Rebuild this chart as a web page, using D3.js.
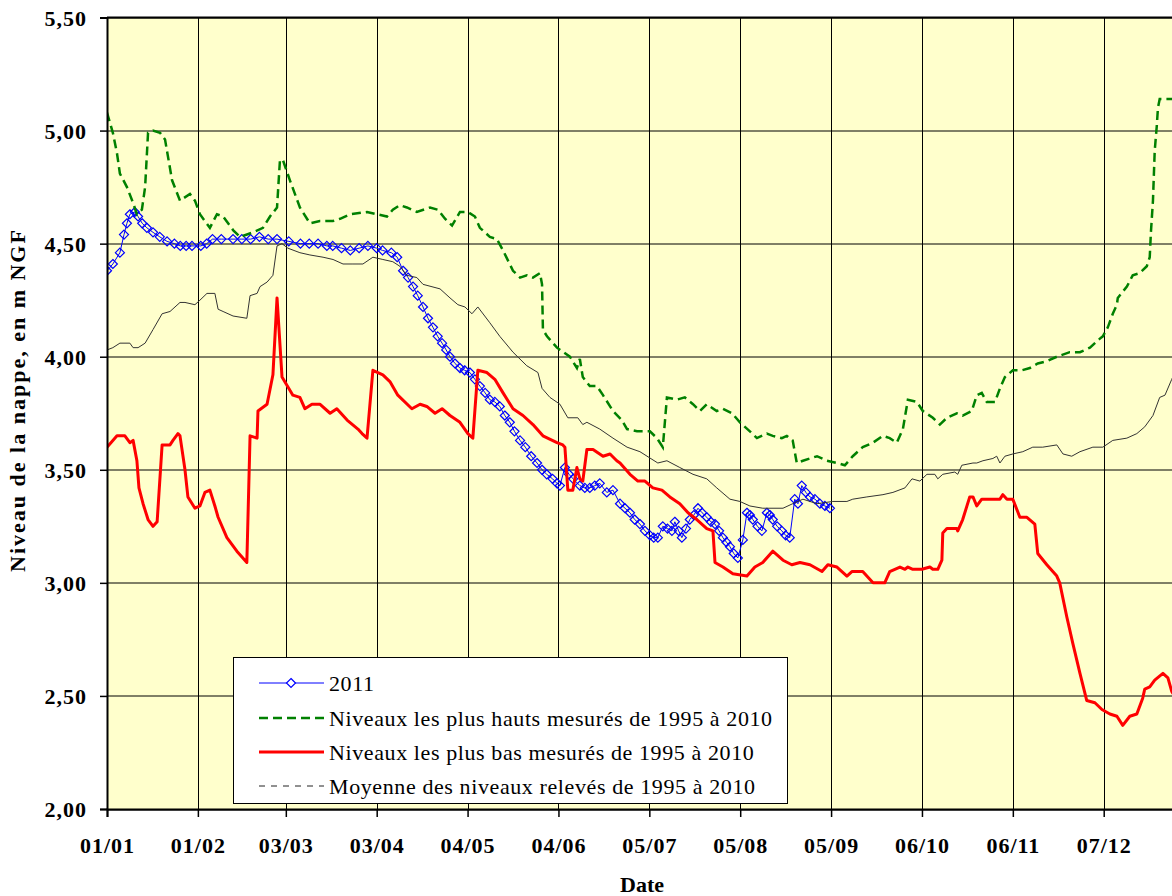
<!DOCTYPE html>
<html>
<head>
<meta charset="utf-8">
<script src="https://cdn.jsdelivr.net/npm/d3@7"></script>
<style>
  body { margin: 0; background: #fff; }
  svg text { font-family: "Liberation Serif", "Times New Roman", serif; }
</style>
</head>
<body>
<div id="chart"></div>
<script>
// y ticks (m NGF) and x ticks (dates shown as dd/mm)
var yTicks = [2.0, 2.5, 3.0, 3.5, 4.0, 4.5, 5.0, 5.5];
var xTickDates = ["2011-01-01", "2011-02-01", "2011-03-03", "2011-04-03", "2011-05-04", "2011-06-04",
                  "2011-07-05", "2011-08-05", "2011-09-05", "2011-10-06", "2011-11-06", "2011-12-07"];

var legendLabels = ["2011",
                    "Niveaux les plus hauts mesurés de 1995 à 2010",
                    "Niveaux les plus bas mesurés de 1995 à 2010",
                    "Moyenne des niveaux relevés de 1995 à 2010"];

// [day of year, level]
var series2011 = [[0,4.38],[2,4.41],[4.4,4.46],[5.8,4.54],[6.8,4.59],[7.8,4.63],[9.5,4.64],[10.6,4.62],[12,4.59],
  [13.6,4.57],[15.7,4.55],[18,4.53],[20.5,4.51],[23,4.50],[25,4.49],[27,4.49],[29,4.49],[32,4.49],[34,4.50],
  [36,4.52],[39,4.52],[43,4.52],[46,4.52],[49,4.52],[52,4.53],[55,4.52],[58,4.52],[62,4.51],[66,4.50],[69,4.50],
  [72,4.50],[75,4.49],[77,4.49],[80,4.48],[83,4.47],[86,4.48],[89,4.49],[92,4.48],[94,4.47],[97,4.46],[99,4.44],
  [101,4.38],[102.7,4.35],[104.4,4.31],[106,4.27],[107.8,4.22],[109.5,4.17],[111.2,4.13],[112.8,4.09],[114.3,4.06],
  [115.7,4.03],[117,4.00],[118.7,3.97],[120.4,3.95],[122,3.94],[123.8,3.93],[125.5,3.90],[127.2,3.87],[129,3.84],
  [130.6,3.81],[132.3,3.80],[134,3.78],[135.7,3.74],[137.4,3.71],[139,3.67],[140.9,3.63],[142.7,3.60],[144.7,3.56],
  [146.7,3.53],[148.4,3.50],[150,3.48],[152,3.46],[153.5,3.44],[154.5,3.43],[156.2,3.51],[157.6,3.48],[159,3.46],
  [161.3,3.43],[163,3.42],[164.7,3.42],[166.4,3.43],[168.1,3.44],[170.5,3.40],[172.6,3.41],[175,3.35],[176.7,3.33],
  [178.4,3.31],[180,3.28],[181.8,3.26],[183.5,3.23],[185.2,3.21],[186.5,3.20],[187.9,3.20],[189.6,3.25],[191.2,3.24],
  [192.7,3.23],[193.7,3.27],[195,3.23],[196.1,3.20],[197.5,3.24],[198.8,3.28],[200.2,3.30],[201.6,3.33],[203,3.31],
  [204.6,3.29],[206,3.27],[207.4,3.26],[208.8,3.23],[210.1,3.20],[211.3,3.18],[212.5,3.16],[213.8,3.13],[215.2,3.11],
  [216.9,3.19],[218.3,3.31],[219.3,3.30],[220.3,3.28],[221.9,3.25],[223.4,3.23],[225.1,3.31],[226.1,3.30],[227.1,3.28],
  [228.6,3.25],[230.2,3.23],[231.5,3.21],[232.9,3.20],[234.6,3.37],[235.7,3.35],[237,3.43],[238.4,3.40],[239.8,3.38],
  [241.5,3.37],[243.2,3.35],[244.9,3.34],[246.6,3.33]];

var highest = [[0,5.08],[2,4.99],[3.4,4.90],[4.4,4.81],[6.8,4.75],[8.9,4.68],[10.2,4.63],[11.9,4.65],[13,4.75],[14,4.99],
  [15.7,5.00],[18.1,4.99],[19.8,4.96],[22.2,4.78],[24.9,4.69],[28.3,4.72],[30,4.69],[31.7,4.63],[35.1,4.57],[37.5,4.63],
  [39.6,4.62],[43,4.56],[45.4,4.53],[49.8,4.55],[53.2,4.57],[55.6,4.62],[58,4.66],[59,4.87],[60,4.87],[62.4,4.78],
  [65.8,4.66],[69.2,4.59],[72.6,4.60],[77.1,4.60],[79.5,4.61],[82.9,4.63],[88.7,4.64],[92.1,4.63],[95.5,4.62],[97.5,4.65],
  [99.9,4.67],[102.3,4.66],[105.7,4.64],[110.2,4.66],[112.9,4.65],[115.3,4.61],[117.7,4.58],[120.4,4.64],[123.1,4.64],
  [125.5,4.62],[127.2,4.57],[130.6,4.53],[133,4.52],[135.1,4.47],[138.5,4.38],[140.9,4.35],[143.2,4.36],[145.3,4.35],
  [147.7,4.37],[148.4,4.32],[148.7,4.12],[150.1,4.09],[153.5,4.04],[157.9,4.00],[160.3,3.95],[161.3,3.99],[162.3,3.91],
  [164.7,3.87],[167.1,3.87],[169.2,3.83],[172.6,3.76],[175.6,3.72],[177.4,3.68],[180.8,3.67],[185.2,3.67],[187.6,3.64],
  [189.6,3.60],[191,3.82],[194.4,3.81],[197.1,3.82],[199.9,3.79],[202.3,3.76],[204.6,3.79],[208,3.76],[210.1,3.77],
  [213.2,3.75],[215.9,3.71],[219.3,3.67],[221.7,3.64],[225.1,3.66],[227.1,3.65],[230.2,3.64],[231.9,3.65],[233.9,3.63],
  [235.3,3.53],[237.4,3.54],[242.2,3.56],[245.6,3.54],[249,3.53],[251.7,3.52],[254.4,3.56],[257.8,3.60],[261.3,3.62],
  [264.7,3.65],[267,3.64],[269.4,3.62],[271.5,3.68],[273.2,3.81],[276.3,3.80],[278.3,3.76],[281.7,3.73],[284.1,3.70],
  [286.5,3.73],[289.9,3.75],[291.9,3.74],[295,3.76],[296.7,3.83],[298.4,3.84],[300.1,3.80],[302.9,3.80],[304.6,3.86],
  [306.3,3.91],[309,3.94],[312.1,3.94],[314.8,3.95],[317.5,3.97],[320.6,3.98],[324,4.00],[328.4,4.02],[331.9,4.02],
  [335.3,4.04],[338.7,4.08],[339.7,4.09],[341.4,4.13],[343.1,4.19],[344.5,4.23],[344.8,4.26],[347.9,4.31],[349.9,4.36],
  [352.3,4.37],[354.7,4.40],[355.7,4.44],[356.1,4.55],[356.8,4.69],[357.4,4.91],[358.1,5.02],[358.5,5.10],[359.1,5.14],
  [365,5.14]];

var lowest = [[0,3.60],[3.4,3.65],[6.1,3.65],[7.8,3.62],[8.9,3.63],[10.2,3.54],[10.9,3.42],[12.3,3.35],[14,3.28],
  [15.7,3.25],[17.1,3.27],[18.8,3.61],[21.5,3.61],[22.5,3.63],[24.2,3.66],[24.9,3.65],[26.6,3.50],[27.6,3.38],[30,3.33],
  [31.7,3.34],[33.4,3.40],[35.1,3.41],[36.8,3.34],[37.9,3.29],[40.9,3.20],[44.3,3.14],[47.7,3.09],[48.8,3.65],[51.2,3.64],
  [51.5,3.76],[54.6,3.79],[56.6,3.92],[58,4.26],[59.7,3.91],[63.4,3.83],[65.8,3.82],[67.5,3.77],[69.9,3.79],[72.6,3.79],
  [76.1,3.75],[78.4,3.77],[81.9,3.72],[85.6,3.68],[87,3.66],[88.7,3.64],[90.7,3.94],[92.4,3.93],[94.1,3.92],[96.5,3.89],
  [99.2,3.83],[104,3.77],[106.8,3.79],[109.1,3.78],[111.9,3.75],[114.3,3.77],[117,3.74],[120.4,3.71],[123.1,3.66],
  [124.8,3.64],[126.5,3.94],[129.6,3.93],[132.3,3.90],[135.1,3.84],[138.5,3.77],[141.9,3.74],[145.3,3.70],[148.7,3.65],
  [153.5,3.62],[155.5,3.61],[156.2,3.60],[157.2,3.41],[158.9,3.41],[160.3,3.51],[161.3,3.46],[162.3,3.45],[163.7,3.59],
  [165.8,3.59],[169.2,3.56],[171.6,3.57],[173.9,3.54],[175,3.53],[178.4,3.48],[181.1,3.45],[183.5,3.45],[186.2,3.42],
  [189.3,3.41],[192,3.38],[195.4,3.35],[198.2,3.31],[201.2,3.28],[204.6,3.24],[206.7,3.23],[207.4,3.09],[210.1,3.07],
  [213.5,3.04],[218.3,3.03],[221,3.07],[223.7,3.09],[227.1,3.14],[230.6,3.10],[233.6,3.08],[236.4,3.09],[239.8,3.08],
  [243.9,3.05],[245.9,3.08],[249,3.07],[252.4,3.03],[254.1,3.05],[257.8,3.05],[261.3,3.00],[265.3,3.00],[267,3.05],
  [270.5,3.07],[272.2,3.06],[273.2,3.07],[274.9,3.06],[278,3.06],[280.7,3.07],[281.7,3.06],[283.4,3.06],[284.8,3.10],
  [285.1,3.22],[286.5,3.24],[289.9,3.24],[290.2,3.23],[291.9,3.28],[294.3,3.38],[295.4,3.38],[296.7,3.34],[298.4,3.37],
  [302.9,3.37],[304.6,3.37],[305.6,3.39],[307,3.37],[309,3.37],[311.4,3.29],[313.8,3.29],[316.5,3.26],[317.5,3.13],
  [320.6,3.08],[324,3.03],[325,3.00],[327.4,2.85],[329.5,2.73],[331.9,2.60],[334.2,2.48],[337,2.47],[339.4,2.44],
  [342.1,2.42],[344.5,2.41],[346.5,2.37],[348.9,2.41],[351.3,2.42],[353.3,2.49],[354,2.53],[355.7,2.54],[357.4,2.57],
  [360.2,2.60],[361.9,2.58],[363.2,2.52],[365,2.48]];

var mean = [[0,4.03],[2,4.04],[4.4,4.06],[7.8,4.06],[8.9,4.04],[10.6,4.04],[13,4.06],[15.7,4.12],[18.8,4.19],[21.5,4.20],
  [24.9,4.24],[26.6,4.24],[30,4.23],[31.7,4.25],[34.1,4.28],[36.8,4.28],[37.9,4.21],[39.6,4.20],[43,4.18],[47.7,4.17],
  [48.8,4.27],[51.2,4.28],[52.2,4.31],[54.6,4.33],[56.6,4.36],[58,4.49],[59.7,4.50],[61.7,4.48],[65.8,4.46],[69.2,4.45],
  [73.7,4.44],[77.1,4.43],[80.5,4.41],[83.9,4.41],[87.3,4.41],[90.7,4.44],[94.1,4.43],[97.5,4.42],[99.9,4.40],
  [102.3,4.36],[105.7,4.35],[107.8,4.32],[113.6,4.30],[117,4.26],[119.7,4.23],[122.1,4.22],[124.5,4.19],[126.5,4.22],
  [130.6,4.15],[134,4.09],[138.5,4.02],[143.2,3.96],[147,3.93],[148.4,3.86],[151.1,3.82],[154.5,3.79],[157.2,3.73],
  [160.6,3.73],[162.3,3.70],[163.7,3.71],[168.1,3.68],[172.6,3.64],[177.4,3.60],[181.8,3.58],[187.9,3.53],[191,3.54],
  [195.4,3.51],[199.9,3.48],[204.6,3.46],[208,3.42],[212.5,3.37],[215.9,3.36],[219.3,3.34],[223.7,3.33],[230.6,3.33],
  [233.9,3.35],[237.4,3.37],[242.2,3.35],[247.6,3.36],[252.4,3.36],[254.4,3.37],[259.2,3.38],[264.7,3.39],[268.1,3.40],
  [272.2,3.42],[274.6,3.46],[277.3,3.45],[279.7,3.48],[282.4,3.48],[283.4,3.46],[285.1,3.48],[289.2,3.49],[290.2,3.48],
  [291.6,3.52],[295.4,3.53],[296.7,3.53],[298.8,3.54],[302.2,3.55],[303.5,3.56],[304.6,3.53],[306.3,3.56],[309,3.57],
  [312.4,3.58],[315.8,3.60],[319.2,3.60],[324,3.61],[326.1,3.57],[329.1,3.56],[331.9,3.58],[336.3,3.60],[339.7,3.60],
  [343.1,3.63],[347.9,3.64],[351.3,3.66],[354,3.69],[356.8,3.74],[359.1,3.82],[360.9,3.83],[363.2,3.90],[365,3.95]];

// dimensions
var W = 1172, H = 896;
var margin = {top: 17.5, left: 107, bottom: 87};
var plotW = 365 * 2.9315;   // runs a little past the right edge of the window
var plotH = H - margin.top - margin.bottom;

var parse = d3.utcParse("%Y-%m-%d");
var start = parse("2011-01-01");
function dayToDate(d) { return new Date(start.getTime() + d * 864e5); }

var x = d3.scaleUtc().domain([start, parse("2012-01-01")]).range([0, plotW]);
var y = d3.scaleLinear().domain([2, 5.5]).range([plotH, 0]);

var svg = d3.select("#chart").append("svg")
    .attr("width", W).attr("height", H)
  .append("g")
    .attr("transform", "translate(" + margin.left + "," + margin.top + ")");

svg.append("defs").append("clipPath").attr("id", "clip")
  .append("rect").attr("width", plotW).attr("height", plotH);

// plot background
svg.append("rect")
    .attr("width", plotW).attr("height", plotH)
    .style("fill", "#FFFFCC");

// grid lines
svg.append("g").selectAll("line.h")
    .data(yTicks)
  .enter().append("line")
    .attr("x1", 0).attr("x2", plotW)
    .attr("y1", function(d) { return Math.round(y(d)) + 0.5; })
    .attr("y2", function(d) { return Math.round(y(d)) + 0.5; })
    .style("stroke", "#000").style("stroke-width", 1);

svg.append("g").selectAll("line.v")
    .data(xTickDates)
  .enter().append("line")
    .attr("x1", function(d) { return Math.round(x(parse(d))) + 0.5; })
    .attr("x2", function(d) { return Math.round(x(parse(d))) + 0.5; })
    .attr("y1", 0).attr("y2", plotH)
    .style("stroke", "#000").style("stroke-width", 1);

var line = d3.line()
    .x(function(d) { return x(dayToDate(d[0])); })
    .y(function(d) { return y(d[1]); });

var plot = svg.append("g").attr("clip-path", "url(#clip)");

// 2011 series with diamonds
plot.append("path")
    .datum(series2011)
    .attr("d", line)
    .style("fill", "none").style("stroke", "#0000FF").style("stroke-width", 1);

var diamond = d3.symbol().type(d3.symbolDiamond2).size(52);
plot.append("g").selectAll("path")
    .data(series2011)
  .enter().append("path")
    .attr("d", diamond)
    .attr("transform", function(d) { return "translate(" + x(dayToDate(d[0])) + "," + y(d[1]) + ")"; })
    .style("fill", "none").style("stroke", "#0000FF").style("stroke-width", 1.2);

// highest levels
plot.append("path")
    .datum(highest)
    .attr("d", line)
    .style("fill", "none").style("stroke", "#008000").style("stroke-width", 2.5)
    .style("stroke-dasharray", "9,5");

// lowest levels
plot.append("path")
    .datum(lowest)
    .attr("d", line)
    .style("fill", "none").style("stroke", "#FF0000").style("stroke-width", 3)
    .style("stroke-linejoin", "round");

// mean
plot.append("path")
    .datum(mean)
    .attr("d", line)
    .style("fill", "none").style("stroke", "#333").style("stroke-width", 1);

// top border
svg.append("line")
    .attr("x1", 0).attr("x2", plotW).attr("y1", 0).attr("y2", 0)
    .style("stroke", "#000").style("stroke-width", 2);

// axes
var fmt = function(d) { return d3.format(".2f")(d).replace(".", ","); };
var yAxis = svg.append("g")
    .call(d3.axisLeft(y).tickValues(yTicks).tickSize(7).tickPadding(13).tickFormat(fmt));
var xAxis = svg.append("g")
    .attr("transform", "translate(0," + plotH + ")")
    .call(d3.axisBottom(x).tickValues(xTickDates.map(parse)).tickSize(8).tickPadding(20)
      .tickFormat(d3.utcFormat("%d/%m")));

[yAxis, xAxis].forEach(function(a) {
  a.select(".domain").style("stroke", "#000").style("stroke-width", 2);
  a.selectAll(".tick line").style("stroke", "#000").style("stroke-width", 1.5);
  a.selectAll(".tick text")
    .style("font-family", '"Liberation Serif", serif')
    .style("font-size", "22px").style("font-weight", "bold")
    .style("letter-spacing", "1px").style("fill", "#000");
});
yAxis.selectAll(".tick text").attr("dy", "0.36em");

// axis titles
svg.append("text")
    .attr("transform", "translate(" + (25 - margin.left) + "," + (400 - margin.top) + ") rotate(-90)")
    .attr("text-anchor", "middle")
    .style("font-size", "22px").style("font-weight", "bold").style("letter-spacing", "2px")
    .text("Niveau de la nappe, en m NGF");

svg.append("text")
    .attr("x", 642 - margin.left).attr("y", 892 - margin.top)
    .attr("text-anchor", "middle")
    .style("font-size", "22px").style("font-weight", "bold")
    .text("Date");

// legend
var lg = svg.append("g").attr("transform", "translate(" + (233 - margin.left) + "," + (657 - margin.top) + ")");
lg.append("rect")
    .attr("x", 0.5).attr("y", 0.5).attr("width", 554).attr("height", 146)
    .style("fill", "#fff").style("stroke", "#000").style("stroke-width", 1);

var legendStyles = [
  {stroke: "#0000FF", width: 1, dash: null},
  {stroke: "#008000", width: 2.5, dash: "9,5"},
  {stroke: "#FF0000", width: 3, dash: null},
  {stroke: "#222", width: 1, dash: "6,6"}
];
var rowY = [26, 61, 95, 129];

var item = lg.selectAll("g.item")
    .data(legendLabels)
  .enter().append("g")
    .attr("transform", function(d, i) { return "translate(0," + rowY[i] + ")"; });

item.append("line")
    .attr("x1", 26).attr("x2", 91).attr("y1", 0).attr("y2", 0)
    .style("stroke", function(d, i) { return legendStyles[i].stroke; })
    .style("stroke-width", function(d, i) { return legendStyles[i].width; })
    .style("stroke-dasharray", function(d, i) { return legendStyles[i].dash; });

item.filter(function(d, i) { return i == 0; }).append("path")
    .attr("d", diamond)
    .attr("transform", "translate(58,0)")
    .style("fill", "#fff").style("stroke", "#0000FF").style("stroke-width", 1.2);

item.append("text")
    .attr("x", 96).attr("dy", "0.35em")
    .style("font-size", "22px").style("letter-spacing", "0.6px")
    .text(function(d) { return d; });
</script>
</body>
</html>
